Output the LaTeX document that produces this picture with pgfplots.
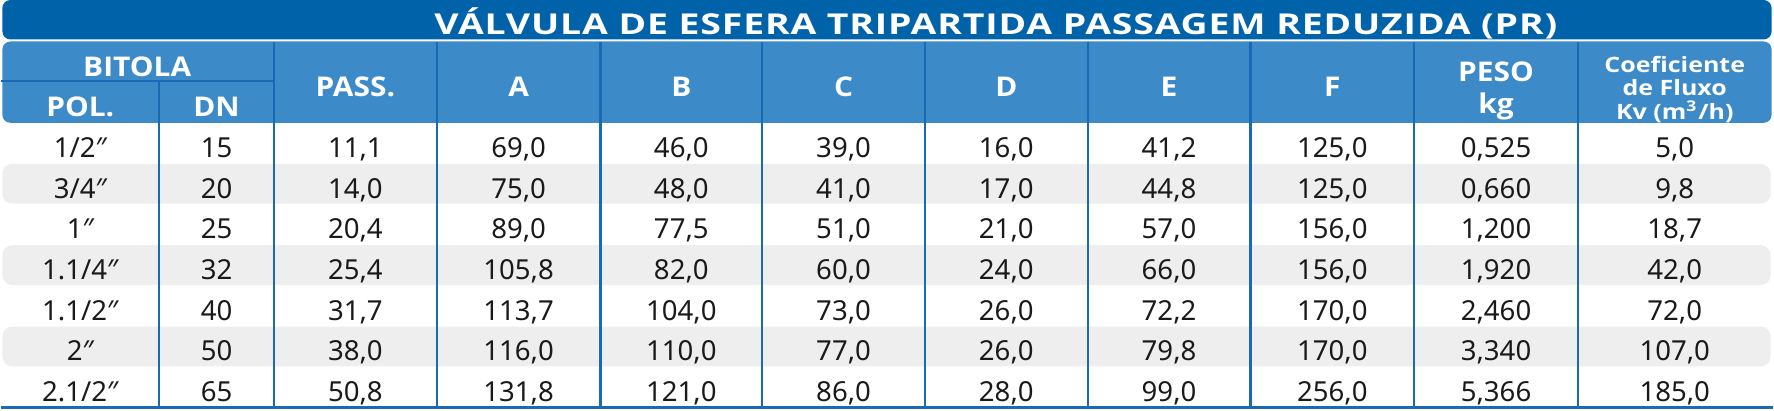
\documentclass[border=0pt]{standalone}
\usepackage{pgfplots}
\pgfplotsset{compat=1.18}
\usepackage{pgfplotstable}
\usepackage{fontspec}
\setmainfont{Noto Sans}
\newfontfamily\hdfont[FakeStretch=1.1]{Open Sans}
\newfontfamily\cofont[FakeStretch=1.18]{Open Sans}
\newfontfamily\ttlfont[FakeStretch=1.3, LetterSpace=3]{Open Sans}
\definecolor{titleblue}{HTML}{0062A9}
\definecolor{headblue}{HTML}{3C8AC8}
\definecolor{lineblue}{HTML}{1A6AB3}
\definecolor{rowgray}{HTML}{EEEEEE}
\definecolor{txt}{HTML}{1A1A1A}

\pgfplotstableread{
y POL DN PASS A B C D E F PESO KV
143.4 1/2″ 15 11,1 69,0 46,0 39,0 16,0 41,2 125,0 0,525 5,0
184.1 3/4″ 20 14,0 75,0 48,0 41,0 17,0 44,8 125,0 0,660 9,8
224.8 1″ 25 20,4 89,0 77,5 51,0 21,0 57,0 156,0 1,200 18,7
265.5 1.1/4″ 32 25,4 105,8 82,0 60,0 24,0 66,0 156,0 1,920 42,0
306.2 1.1/2″ 40 31,7 113,7 104,0 73,0 26,0 72,2 170,0 2,460 72,0
346.9 2″ 50 38,0 116,0 110,0 77,0 26,0 79,8 170,0 3,340 107,0
387.6 2.1/2″ 65 50,8 131,8 121,0 86,0 28,0 99,0 256,0 5,366 185,0
}\valvedata

\pgfplotstableread{
x y label
136 62.5 BITOLA
79 102 POL.
215.5 102 DN
354.5 82 PASS.
518 82 A
681 82 B
843.5 82 C
1006.5 82 D
1169.5 82 E
1333 82 F
1497 67.5 PESO
1497 99.5 kg
}\headdata

\pgfplotstableread{
x y label
1676 58 Coeficiente
1676 81.5 {de Fluxo}
1676 105 {Kv (m\textsuperscript{3}/h)}
}\coefdata

\pgfplotstableread{
x y
158 81
158 408
nan nan
273 42
273 408
nan nan
436 42
436 408
nan nan
600 42
600 408
nan nan
762 42
762 408
nan nan
925 42
925 408
nan nan
1088 42
1088 408
nan nan
1251 42
1251 408
nan nan
1415 42
1415 408
nan nan
1579 42
1579 408
nan nan
0 81
273 81
}\gridlines

\begin{document}
\begin{tikzpicture}
\begin{axis}[
  width=443.5pt, height=102.75pt, scale only axis,
  xmin=0, xmax=1774, ymin=0, ymax=411, y dir=reverse,
  axis line style={draw=none}, xtick=\empty, ytick=\empty,
  clip=false,
  txt/.style={only marks, mark=none, point meta=explicit symbolic,
    nodes near coords,
    every node near coord/.append style={anchor=base, yshift=-0.36em, inner sep=0pt, #1}},
]
% title bar
\addplot[fill=titleblue, draw=none, rounded corners=2pt] coordinates {(1,0) (1773,0) (1773,39.5) (1,39.5)} -- cycle;
% header background
\addplot[fill=headblue, draw=none, rounded corners=2pt] coordinates {(1,41.5) (1773,41.5) (1773,123) (1,123)} -- cycle;
% alternating rows
\addplot[fill=rowgray, draw=none, rounded corners=2.5pt] coordinates {(1,164) (1772,164) (1772,204) (1,204)} -- cycle;
\addplot[fill=rowgray, draw=none, rounded corners=2.5pt] coordinates {(1,245.5) (1772,245.5) (1772,285.5) (1,285.5)} -- cycle;
\addplot[fill=rowgray, draw=none, rounded corners=2.5pt] coordinates {(1,327) (1772,327) (1772,367) (1,367)} -- cycle;
% grid lines
\addplot[draw=lineblue, line width=0.55pt, unbounded coords=jump, mark=none] table[x=x, y=y] {\gridlines};
\addplot[draw=lineblue, line width=0.7pt, mark=none] coordinates {(0,408.5) (1774,408.5)};
% title text
\addplot[txt={font=\ttlfont\bfseries\fontsize{7.2}{8.5}\selectfont, text=white}] coordinates {(996,20) [VÁLVULA DE ESFERA TRIPARTIDA PASSAGEM REDUZIDA (PR)]};
% header text
\addplot[txt={font=\hdfont\bfseries\fontsize{6.8}{8}\selectfont, text=white}] table[x=x, y=y, meta=label] {\headdata};
\addplot[txt={font=\cofont\bfseries\fontsize{5.3}{6.5}\selectfont, text=white}] table[x=x, y=y, meta=label] {\coefdata};
% data text
\pgfplotsset{datafont/.style={txt={font=\fontsize{6.9}{8}\selectfont, text=txt}}}
\addplot[datafont] table[x expr=79, y=y, meta=POL] {\valvedata};
\addplot[datafont] table[x expr=215.5, y=y, meta=DN] {\valvedata};
\addplot[datafont] table[x expr=354.5, y=y, meta=PASS] {\valvedata};
\addplot[datafont] table[x expr=518, y=y, meta=A] {\valvedata};
\addplot[datafont] table[x expr=681, y=y, meta=B] {\valvedata};
\addplot[datafont] table[x expr=843.5, y=y, meta=C] {\valvedata};
\addplot[datafont] table[x expr=1006.5, y=y, meta=D] {\valvedata};
\addplot[datafont] table[x expr=1169.5, y=y, meta=E] {\valvedata};
\addplot[datafont] table[x expr=1333, y=y, meta=F] {\valvedata};
\addplot[datafont] table[x expr=1497, y=y, meta=PESO] {\valvedata};
\addplot[datafont] table[x expr=1676, y=y, meta=KV] {\valvedata};
\end{axis}
\end{tikzpicture}
\end{document}
